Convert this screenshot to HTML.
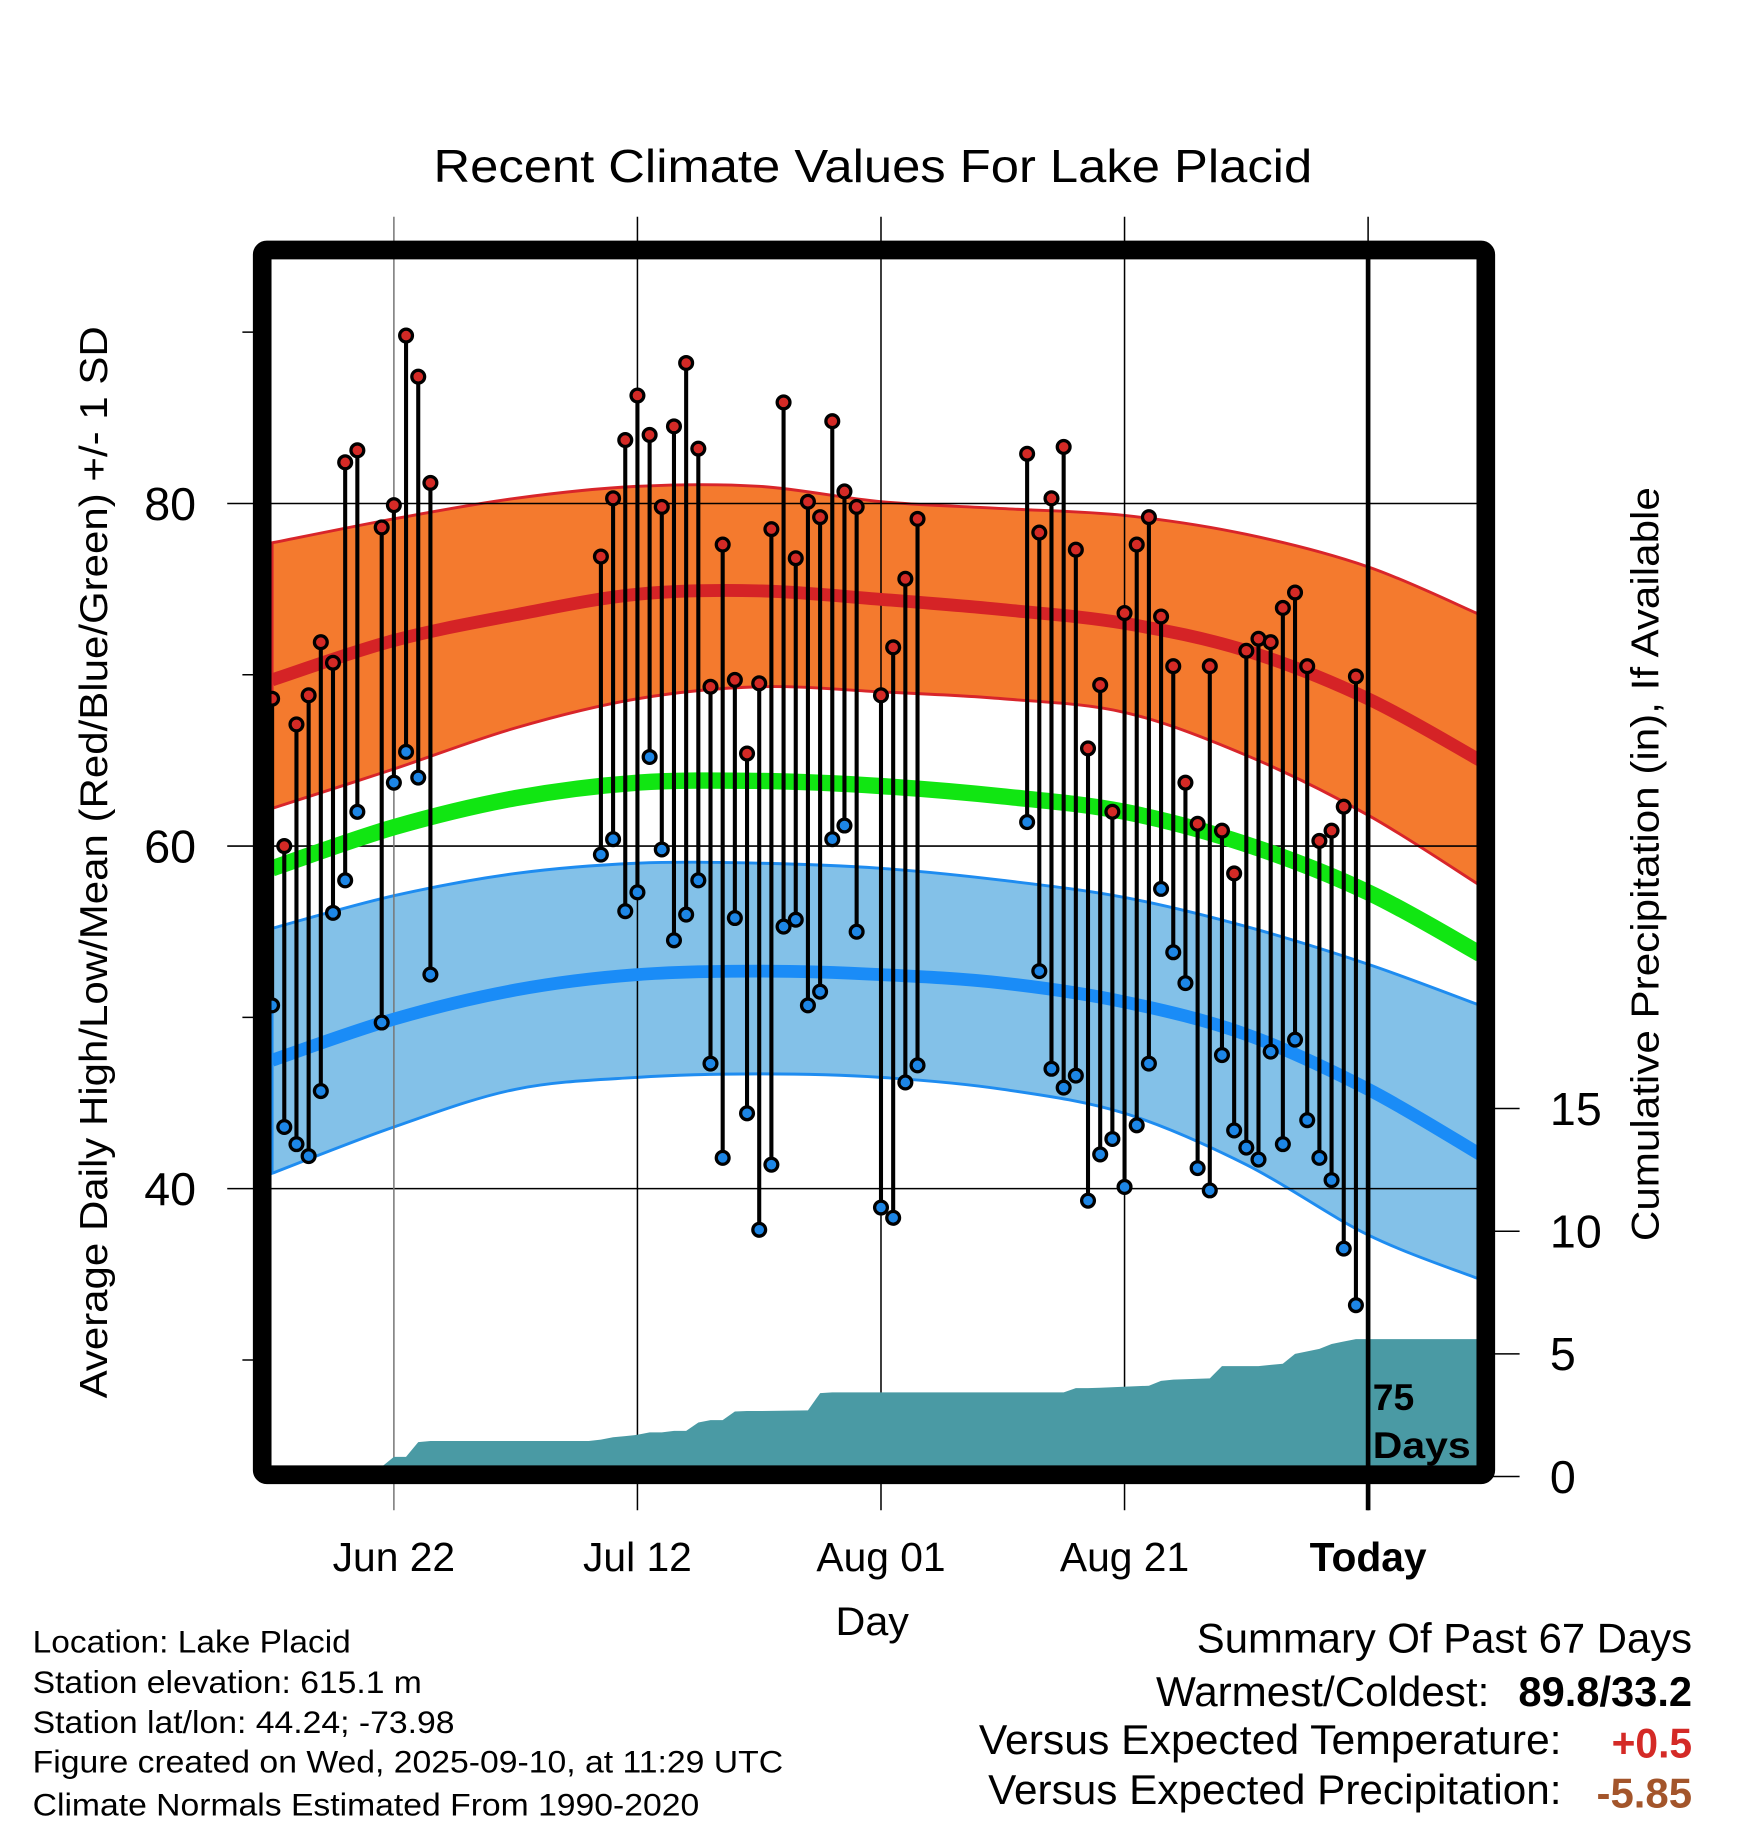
<!DOCTYPE html>
<html><head><meta charset="utf-8"><style>
html,body{margin:0;padding:0;background:#fff;}
svg{display:block;font-family:"Liberation Sans",Arial,sans-serif;}
</style></head><body>
<svg id="chart" xmlns="http://www.w3.org/2000/svg" width="1748" height="1828" viewBox="0 0 1500 1568.6">
<rect width="1500" height="1568.6" fill="#fff"/>
<g id="bands"></g><g id="grid"></g><g id="precip"></g><g id="lines"></g><g id="stems"></g><g id="frame"></g><g id="labels"></g>
</svg>
<script>
// ---- data (day index: 0 = Jun 22, 80 = Today/Sep 10) ----
const normDays   = [-10, 0, 10, 20, 30, 40, 50, 60, 70, 80, 89.2];
const normHighUp = [77.7, 79.1, 80.3, 81.0, 81.0, 80.1, 79.7, 79.3, 78.2, 76.3, 73.5];
const normHigh   = [69.7, 72.0, 73.5, 74.7, 74.9, 74.4, 73.8, 73.0, 71.4, 68.6, 65.0];
const normHighLo = [62.2, 64.5, 66.9, 68.6, 69.3, 69.0, 68.6, 67.8, 65.3, 61.8, 57.7];
const normMean   = [58.7, 61.1, 62.8, 63.7, 63.8, 63.5, 62.9, 62.0, 60.1, 57.3, 53.7];
const normLowUp  = [55.2, 57.1, 58.4, 59.0, 59.0, 58.7, 58.0, 57.0, 55.3, 53.1, 50.7];
const normLow    = [47.5, 49.9, 51.6, 52.5, 52.7, 52.5, 52.0, 50.9, 49.0, 45.8, 42.0];
const normLowLo  = [40.9, 43.6, 45.8, 46.5, 46.7, 46.5, 45.8, 44.4, 41.4, 37.3, 34.7];
const obsDays  = [-10,-9,-8,-7,-6,-5,-4,-3,-1,0,1,2,3,
 17,18,19,20,21,22,23,24,25,26,27,28,29,30,31,32,33,34,35,36,37,38,40,41,42,43,
 52,53,54,55,56,57,58,59,60,61,62,63,64,65,66,67,68,69,70,71,72,73,74,75,76,77,78,79];
const obsHigh = [68.6,60.0,67.1,68.8,71.9,70.7,82.4,83.1,78.6,79.9,89.8,87.4,81.2,
 76.9,80.3,83.7,86.3,84.0,79.8,84.5,88.2,83.2,69.3,77.6,69.7,65.4,69.5,78.5,85.9,76.8,80.1,79.2,84.8,80.7,79.8,68.8,71.6,75.6,79.1,
 82.9,78.3,80.3,83.3,77.3,65.7,69.4,62.0,73.6,77.6,79.2,73.4,70.5,63.7,61.3,70.5,60.9,58.4,71.4,72.1,71.9,73.9,74.8,70.5,60.3,60.9,62.3,69.9];
const obsLow = [50.7,43.6,42.6,41.9,45.7,56.1,58.0,62.0,49.7,63.7,65.5,64.0,52.5,
 59.5,60.4,56.2,57.3,65.2,59.8,54.5,56.0,58.0,47.3,41.8,55.8,44.4,37.6,41.4,55.3,55.7,50.7,51.5,60.4,61.2,55.0,38.9,38.3,46.2,47.2,
 61.4,52.7,47.0,45.9,46.6,39.3,42.0,42.9,40.1,43.7,47.3,57.5,53.8,52.0,41.2,39.9,47.8,43.4,42.4,41.7,48.0,42.6,48.7,44.0,41.8,40.5,36.5,33.2];
const precipDays = [-10,-2,-1,0,1,2,3,16,17,18,19,20,21,22,23,24,25,26,27,28,29,30,34,35,36,55,56,57,58,62,63,64,67,68,71,72,73,74,75,76,77,78,79,80,89.2];
const precipCum  = [0,0,0.4,0.8,0.8,1.4,1.45,1.45,1.5,1.6,1.65,1.7,1.8,1.8,1.86,1.86,2.2,2.3,2.3,2.65,2.67,2.67,2.7,3.4,3.43,3.43,3.6,3.6,3.62,3.7,3.9,3.95,4.0,4.5,4.5,4.55,4.6,5.0,5.1,5.2,5.4,5.5,5.6,5.6,5.6];
const tempTicks = [40, 60, 80];
const tempMinor = [30, 50, 70, 90];
const precipTicks = [0, 5, 10, 15];
const dateTickDays = [0, 20, 40, 60, 80];
const dateTickLabels = ["Jun 22", "Jul 12", "Aug 01", "Aug 21", "Today"];

// ---- scales ----
const X0 = 232, X1 = 1268, Y0 = 222, Y1 = 1259;
const xS = d => 338 + d * 10.45;
const yT = t => 432 + (80 - t) * 14.7;
const yP = p => 1267 - p * 21.05;
const NS = "http://www.w3.org/2000/svg";
function mk(parent, tag, attrs, text) {
  const e = document.createElementNS(NS, tag);
  for (const k in attrs) e.setAttribute(k, attrs[k]);
  if (text !== undefined) e.textContent = text;
  document.getElementById(parent).appendChild(e);
  return e;
}
function smooth(pts, move) {
  let s = (move ? "M" : "L") + pts[0][0].toFixed(1) + "," + pts[0][1].toFixed(1);
  for (let i = 0; i < pts.length - 1; i++) {
    const p0 = pts[Math.max(0, i - 1)], p1 = pts[i], p2 = pts[i + 1], p3 = pts[Math.min(pts.length - 1, i + 2)];
    const c1 = [p1[0] + (p2[0] - p0[0]) / 6, p1[1] + (p2[1] - p0[1]) / 6];
    const c2 = [p2[0] - (p3[0] - p1[0]) / 6, p2[1] - (p3[1] - p1[1]) / 6];
    s += "C" + c1[0].toFixed(1) + "," + c1[1].toFixed(1) + " " + c2[0].toFixed(1) + "," + c2[1].toFixed(1) + " " + p2[0].toFixed(1) + "," + p2[1].toFixed(1);
  }
  return s;
}
const pts = arr => normDays.map((d, i) => [xS(d), yT(arr[i])]);
const line = arr => smooth(pts(arr), true);
const band = (up, lo) => smooth(pts(up), true) + smooth(pts(lo).reverse(), false) + "Z";

const defs = document.createElementNS(NS, "defs");
defs.innerHTML = '<clipPath id="pc"><rect x="' + X0 + '" y="' + Y0 + '" width="' + (X1 - X0) + '" height="' + (Y1 - Y0) + '"/></clipPath>';
document.getElementById("chart").prepend(defs);
["bands", "precip", "lines"].forEach(id => document.getElementById(id).setAttribute("clip-path", "url(#pc)"));

let e;
e = mk("bands", "path", { d: band(normHighUp, normHighLo), fill: "#f47a2e", stroke: "#d8252a", "stroke-width": 2.5 });


e = mk("bands", "path", { d: band(normLowUp, normLowLo), fill: "#83c1e8", stroke: "#1e8cf0", "stroke-width": 2.5 });



tempTicks.forEach(t => {
  e = mk("grid", "line", { x1: 195, x2: X1, y1: yT(t), y2: yT(t), stroke: "#000", "stroke-width": 1.3 });
  
  
  e = mk("labels", "text", { x: 146, y: yT(t) + 14, "font-size": 40, "text-anchor": "middle" }, String(t));
  
  
});
tempMinor.forEach(t => {
  e = mk("grid", "line", { x1: 208, x2: 224, y1: yT(t), y2: yT(t), stroke: "#000", "stroke-width": 1.3 });
  
  
});
dateTickDays.forEach((d, i) => {
  e = mk("grid", "line", { x1: xS(d), x2: xS(d), y1: 186, y2: 1296, stroke: i === 0 ? "#777" : "#000", "stroke-width": 1.3 });
  
  
  e = mk("labels", "text", { x: xS(d), y: 1348, "font-size": 35, "text-anchor": "middle", "font-weight": i === 4 ? "bold" : "normal" }, dateTickLabels[i]);
  
  
});

let pd = "M" + xS(precipDays[0]) + "," + yP(0);
precipDays.forEach((d, i) => { pd += "L" + xS(d).toFixed(1) + "," + yP(precipCum[i]).toFixed(1); });
pd += "L" + xS(precipDays[precipDays.length - 1]) + "," + yP(0) + "Z";
e = mk("precip", "path", { d: pd, fill: "#4a9aa4" });



e = mk("lines", "path", { d: line(normHigh), fill: "none", stroke: "#d52326", "stroke-width": 11 });


e = mk("lines", "path", { d: line(normMean), fill: "none", stroke: "#11e612", "stroke-width": 14 });


e = mk("lines", "path", { d: line(normLow), fill: "none", stroke: "#1a8cf7", "stroke-width": 11 });



obsDays.forEach((d, i) => {
  const x = xS(d);
  e = mk("stems", "line", { x1: x, x2: x, y1: yT(obsHigh[i]), y2: yT(obsLow[i]), stroke: "#000", "stroke-width": 3.5 });
  
  
  e = mk("stems", "circle", { cx: x, cy: yT(obsHigh[i]), r: 5.5, fill: "#d42a26", stroke: "#000", "stroke-width": 2.8 });
  
  
  e = mk("stems", "circle", { cx: x, cy: yT(obsLow[i]), r: 5.5, fill: "#1d86e6", stroke: "#000", "stroke-width": 2.8 });
  
  
});

e = mk("frame", "rect", { x: 225, y: 214.5, width: 1050, height: 1051, fill: "none", stroke: "#000", "stroke-width": 16, rx: 4 });


e = mk("frame", "line", { x1: xS(80), x2: xS(80), y1: Y0, y2: 1296, stroke: "#000", "stroke-width": 4 });


precipTicks.forEach(p => {
  e = mk("frame", "line", { x1: 1275, x2: 1304, y1: yP(p), y2: yP(p), stroke: "#000", "stroke-width": 1.3 });
  
  
  e = mk("labels", "text", { x: 1330, y: yP(p) + 14, "font-size": 40 }, String(p));
  
  
});
e = mk("labels", "text", { x: 1178, y: 1210, "font-size": 32, "font-weight": "bold" }, "75");


e = mk("labels", "text", { x: 1178, y: 1251, "font-size": 32, "font-weight": "bold", textLength: 84, lengthAdjust: "spacingAndGlyphs" }, "Days");


</script>
<script>
(function(){
const NS = "http://www.w3.org/2000/svg";
const g = document.getElementById("labels");
function t(name, x, y, size, txt, opts) {
  const e = document.createElementNS(NS, "text");
  e.setAttribute("x", x); e.setAttribute("y", y); e.setAttribute("font-size", size);
  for (const k in opts) e.setAttribute(k, opts[k]);
  e.textContent = txt;
  
  
  g.appendChild(e);
  return e;
}
const adj = (w) => ({ textLength: w, lengthAdjust: "spacingAndGlyphs" });
t("chart-title", 372, 156, 40, "Recent Climate Values For Lake Placid", adj(754));
t("y-axis-title", 0, 0, 33, "Average Daily High/Low/Mean (Red/Blue/Green) +/- 1 SD", Object.assign({ transform: "translate(92,1200) rotate(-90)" }, adj(920)));
t("y2-axis-title", 0, 0, 33, "Cumulative Precipitation (in), If Available", Object.assign({ transform: "translate(1423,1065) rotate(-90)" }, adj(647)));
t("x-axis-title", 717, 1403, 34, "Day", adj(63));
t("footer-location", 28, 1418, 27, "Location: Lake Placid", adj(273));
t("footer-elevation", 28, 1453, 27, "Station elevation: 615.1 m", adj(334));
t("footer-latlon", 28, 1487, 27, "Station lat/lon: 44.24; -73.98", adj(362));
t("footer-created", 28, 1521, 27, "Figure created on Wed, 2025-09-10, at 11:29 UTC", adj(644));
t("footer-normals", 28, 1558, 27, "Climate Normals Estimated From 1990-2020", adj(572));
t("summary-title", 1027, 1418, 36, "Summary Of Past 67 Days", adj(425));
t("warmest-coldest-label", 992, 1464, 36, "Warmest/Coldest:", adj(286));
t("warmest-coldest-value", 1303, 1464, 36, "89.8/33.2", Object.assign({ "font-weight": "bold" }, adj(149)));
t("temp-anomaly-label", 840, 1505, 36, "Versus Expected Temperature:", adj(500));
t("temp-anomaly-value", 1383, 1508, 36, "+0.5", Object.assign({ "font-weight": "bold", fill: "#d42a26" }, adj(69)));
t("precip-anomaly-label", 848, 1548, 36, "Versus Expected Precipitation:", adj(492));
t("precip-anomaly-value", 1370, 1551, 36, "-5.85", Object.assign({ "font-weight": "bold", fill: "#a3552b" }, adj(82)));
})();
</script>
</body></html>
